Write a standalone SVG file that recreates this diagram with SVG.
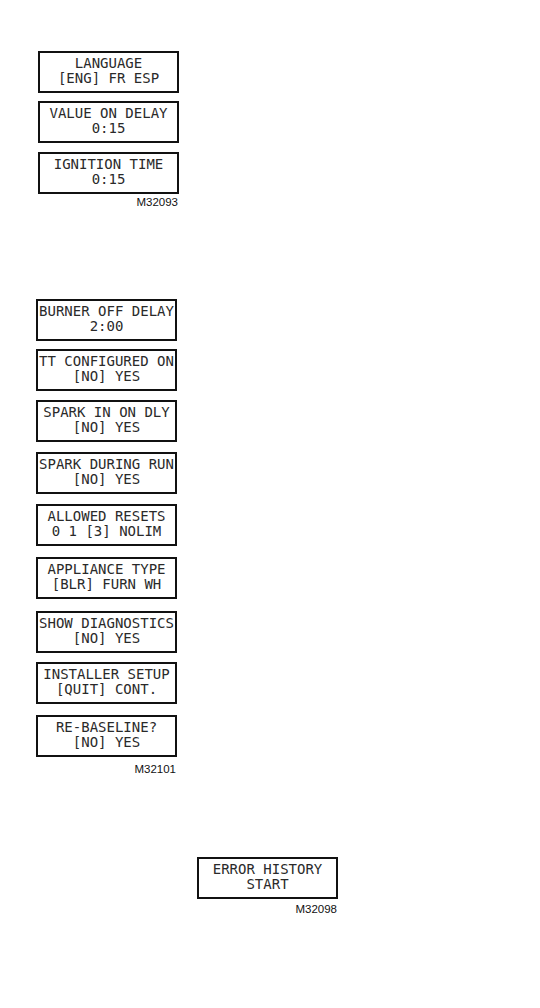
<svg xmlns="http://www.w3.org/2000/svg" width="540" height="1008" viewBox="0 0 540 1008">
<style>
rect{fill:#fff;stroke:#111;stroke-width:2}
.t{font-family:"DejaVu Sans Mono","Liberation Mono",monospace;font-size:14px;fill:#2a2a2a;text-anchor:middle}
.m{font-family:"Liberation Sans",Arial,sans-serif;font-size:11.5px;fill:#111;text-anchor:end}
</style>
<rect x="0" y="0" width="540" height="1008" style="fill:#fff;stroke:none"/>
<g id="connectors"></g>
<g id="n1"><rect x="39" y="52" width="139" height="40"/><text class="t" x="108.5" y="68">LANGUAGE</text><text class="t" x="108.5" y="83">[ENG] FR ESP</text></g>
<g id="n2"><rect x="39" y="102" width="139" height="40"/><text class="t" x="108.5" y="118">VALUE ON DELAY</text><text class="t" x="108.5" y="133">0:15</text></g>
<g id="n3"><rect x="39" y="153" width="139" height="40"/><text class="t" x="108.5" y="169">IGNITION TIME</text><text class="t" x="108.5" y="184">0:15</text></g>
<text class="m" x="178" y="206">M32093</text>
<g id="n4"><rect x="37" y="300" width="139" height="40"/><text class="t" x="106.5" y="316">BURNER OFF DELAY</text><text class="t" x="106.5" y="331">2:00</text></g>
<g id="n5"><rect x="37" y="350" width="139" height="40"/><text class="t" x="106.5" y="366">TT CONFIGURED ON</text><text class="t" x="106.5" y="381">[NO] YES</text></g>
<g id="n6"><rect x="37" y="401" width="139" height="40"/><text class="t" x="106.5" y="417">SPARK IN ON DLY</text><text class="t" x="106.5" y="432">[NO] YES</text></g>
<g id="n7"><rect x="37" y="453" width="139" height="40"/><text class="t" x="106.5" y="469">SPARK DURING RUN</text><text class="t" x="106.5" y="484">[NO] YES</text></g>
<g id="n8"><rect x="37" y="505" width="139" height="40"/><text class="t" x="106.5" y="521">ALLOWED RESETS</text><text class="t" x="106.5" y="536">0 1 [3] NOLIM</text></g>
<g id="n9"><rect x="37" y="558" width="139" height="40"/><text class="t" x="106.5" y="574">APPLIANCE TYPE</text><text class="t" x="106.5" y="589">[BLR] FURN WH</text></g>
<g id="n10"><rect x="37" y="612" width="139" height="40"/><text class="t" x="106.5" y="628">SHOW DIAGNOSTICS</text><text class="t" x="106.5" y="643">[NO] YES</text></g>
<g id="n11"><rect x="37" y="663" width="139" height="40"/><text class="t" x="106.5" y="679">INSTALLER SETUP</text><text class="t" x="106.5" y="694">[QUIT] CONT.</text></g>
<g id="n12"><rect x="37" y="716" width="139" height="40"/><text class="t" x="106.5" y="732">RE-BASELINE?</text><text class="t" x="106.5" y="747">[NO] YES</text></g>
<text class="m" x="176" y="773">M32101</text>
<g id="n13"><rect x="198" y="858" width="139" height="40"/><text class="t" x="267.5" y="874">ERROR HISTORY</text><text class="t" x="267.5" y="889">START</text></g>
<text class="m" x="337" y="913">M32098</text>
</svg>
